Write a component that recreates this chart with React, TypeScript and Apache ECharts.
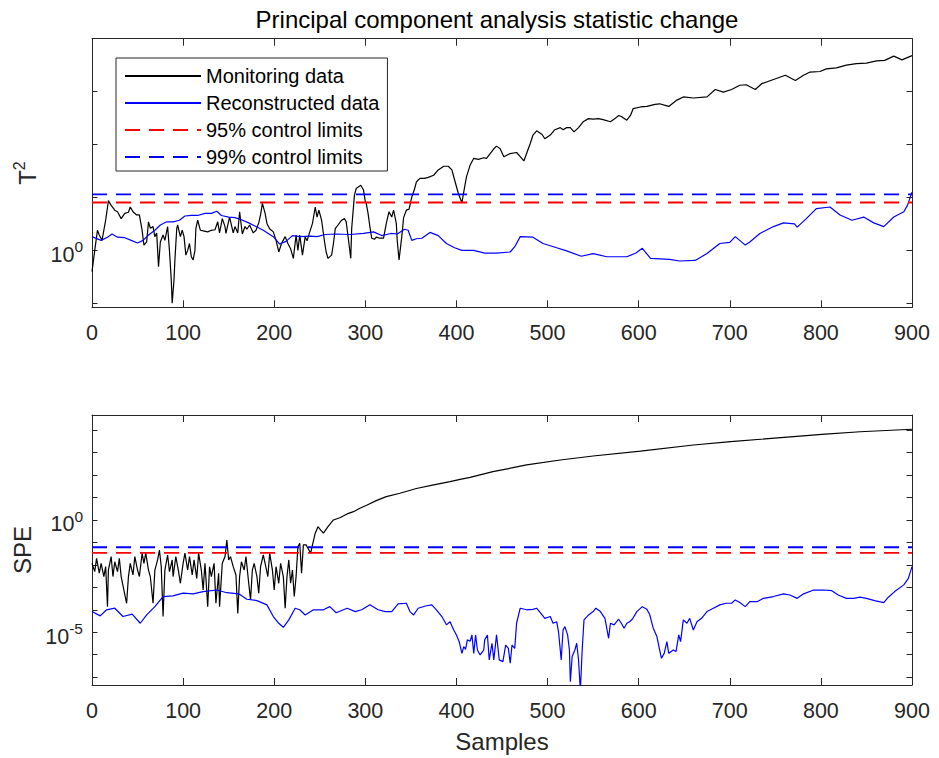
import React, { useEffect, useRef } from "react";
import * as echarts from "echarts";

// Values are stored as log10 exponents: [sample, log10(value)]
const t2MonitoringLog10: [number, number][] = [
  [0,-0.40],[3,0.0],[6,0.38],[8,0.29],[11,0.19],[15,0.57],[18,0.94],[21,0.85],[25,0.76],[28,0.73],[32,0.60],[36,0.70],[40,0.72],[42,0.82],[45,0.73],[49,0.67],[52,0.67],[55,0.38],[57,0.10],[60,0.16],[62,0.54],[64,0.42],[67,0.45],[69,0.26],[71,0.33],[73,-0.31],[75,0.16],[78,0.29],[80,0.19],[83,0.45],[85,0.0],[87,-0.56],[88,-1.0],[90,-0.56],[91,-0.18],[93,0.41],[94,0.48],[97,0.26],[99,0.38],[101,0.26],[103,-0.09],[105,0.0],[107,0.13],[109,-0.12],[111,-0.18],[113,0.0],[114,0.41],[116,0.57],[119,0.38],[122,0.37],[127,0.35],[131,0.38],[135,0.39],[138,0.54],[140,0.33],[143,0.60],[146,0.45],[147,0.32],[151,0.63],[155,0.33],[157,0.45],[160,0.33],[162,0.73],[165,0.31],[168,0.45],[170,0.40],[173,0.48],[177,0.33],[180,0.38],[183,0.52],[185,0.67],[187,0.89],[190,0.70],[192,0.51],[195,0.41],[199,0.35],[202,0.19],[205,-0.03],[208,0.13],[212,0.26],[215,0.13],[218,0.03],[221,-0.15],[224,0.29],[226,0.0],[228,0.29],[231,-0.09],[234,0.26],[236,0.18],[239,0.35],[242,0.51],[245,0.82],[247,0.63],[249,0.76],[252,0.57],[255,0.19],[257,-0.03],[259,-0.15],[263,-0.09],[265,0.13],[267,0.41],[270,0.48],[274,0.57],[277,0.60],[279,0.54],[282,0.13],[284,-0.15],[285,0.41],[288,1.04],[290,1.17],[295,1.23],[298,1.14],[300,0.92],[301,0.89],[303,0.70],[305,0.45],[307,0.23],[310,0.21],[312,0.25],[316,0.23],[320,0.23],[323,0.51],[326,0.73],[329,0.63],[331,0.76],[334,0.51],[335,0.19],[337,-0.18],[340,0.26],[342,0.62],[345,0.76],[348,0.78],[351,1.01],[354,1.16],[356,1.29],[358,1.33],[360,1.36],[365,1.36],[369,1.38],[375,1.42],[380,1.52],[386,1.59],[391,1.59],[395,1.52],[398,1.33],[402,1.08],[406,0.90],[409,1.20],[411,1.39],[415,1.61],[419,1.74],[424,1.72],[430,1.75],[433,1.74],[437,1.83],[441,1.92],[444,1.97],[448,1.92],[452,1.77],[459,1.83],[466,1.85],[470,1.77],[474,1.69],[477,1.83],[481,2.02],[484,2.18],[488,2.26],[494,2.19],[497,2.11],[503,2.18],[508,2.28],[514,2.32],[517,2.28],[521,2.32],[525,2.32],[529,2.24],[534,2.32],[539,2.43],[545,2.49],[550,2.48],[556,2.49],[561,2.47],[569,2.43],[574,2.49],[578,2.55],[581,2.53],[587,2.46],[591,2.55],[594,2.68],[602,2.71],[609,2.72],[618,2.76],[623,2.77],[633,2.72],[642,2.84],[649,2.90],[660,2.88],[675,2.90],[684,3.04],[693,2.99],[702,3.04],[711,3.12],[718,3.13],[728,3.04],[735,3.15],[748,3.23],[761,3.31],[772,3.21],[781,3.31],[788,3.37],[799,3.38],[806,3.43],[817,3.45],[828,3.50],[839,3.53],[850,3.54],[861,3.58],[870,3.59],[880,3.67],[889,3.60],[900,3.68]
];

const t2ReconstructedLog10: [number, number][] = [
  [0,0.26],[10,0.19],[17,0.25],[22,0.31],[28,0.25],[36,0.24],[43,0.19],[50,0.14],[56,0.19],[62,0.29],[69,0.38],[75,0.48],[82,0.54],[89,0.54],[96,0.57],[102,0.65],[109,0.66],[116,0.66],[124,0.70],[131,0.70],[137,0.74],[142,0.66],[150,0.63],[157,0.62],[164,0.58],[172,0.52],[180,0.45],[188,0.38],[199,0.26],[206,0.12],[213,0.17],[220,0.28],[228,0.26],[240,0.27],[247,0.26],[256,0.30],[268,0.31],[283,0.30],[298,0.32],[309,0.35],[318,0.28],[328,0.32],[335,0.31],[343,0.40],[347,0.38],[351,0.19],[356,0.22],[362,0.23],[371,0.34],[380,0.28],[389,0.13],[398,0.05],[406,0.0],[419,0.0],[431,-0.05],[444,-0.05],[459,-0.03],[464,0.07],[470,0.26],[484,0.25],[495,0.13],[510,0.05],[521,-0.01],[537,-0.11],[550,-0.06],[565,-0.12],[587,-0.12],[597,-0.05],[604,0.04],[613,-0.15],[634,-0.17],[645,-0.20],[662,-0.19],[675,-0.06],[689,0.13],[700,0.15],[706,0.26],[717,0.10],[722,0.16],[733,0.32],[748,0.45],[759,0.52],[771,0.50],[774,0.44],[784,0.60],[795,0.79],[810,0.82],[821,0.67],[834,0.57],[847,0.63],[858,0.52],[869,0.45],[880,0.63],[891,0.73],[895,0.85],[900,1.10]
];

const speMonitoringLog10: [number, number][] = [
  [0,-1.93],[3,-2.30],[5,-1.71],[8,-2.37],[10,-1.93],[13,-2.52],[15,-2.08],[17,-3.86],[18,-2.23],[21,-1.63],[23,-2.52],[25,-1.86],[28,-2.30],[30,-1.71],[32,-2.52],[35,-3.12],[38,-3.71],[40,-2.52],[42,-1.93],[45,-2.45],[47,-1.63],[50,-2.23],[52,-2.52],[55,-1.48],[57,-1.93],[59,-1.48],[62,-2.23],[64,-2.52],[67,-3.71],[69,-2.23],[72,-1.78],[74,-1.34],[76,-2.08],[78,-4.30],[80,-2.23],[83,-1.56],[85,-2.30],[88,-1.78],[89,-2.52],[92,-1.63],[95,-2.30],[97,-2.82],[100,-1.93],[102,-1.48],[105,-2.23],[107,-1.63],[110,-2.45],[112,-1.78],[115,-2.60],[117,-1.48],[120,-2.23],[122,-3.12],[124,-1.93],[127,-3.86],[129,-2.08],[131,-2.52],[134,-1.93],[136,-3.71],[139,-2.37],[140,-3.86],[143,-1.93],[146,-1.63],[148,-0.89],[150,-1.78],[152,-1.63],[155,-2.08],[158,-2.45],[160,-4.16],[162,-2.52],[164,-1.86],[167,-2.23],[169,-1.63],[172,-2.82],[174,-3.56],[176,-2.23],[178,-1.93],[181,-2.52],[183,-3.26],[185,-2.08],[188,-1.56],[190,-1.93],[193,-2.52],[195,-1.48],[198,-2.23],[200,-3.12],[202,-2.08],[205,-2.82],[207,-1.93],[210,-2.52],[212,-3.93],[214,-2.52],[216,-1.78],[218,-2.82],[220,-2.23],[222,-3.41],[224,-2.52],[226,-1.19],[228,-1.04],[230,-2.37],[232,-1.11],[235,-1.11],[237,-1.26],[240,-1.48],[242,-1.11],[245,-0.59],[248,-0.30],[251,-0.45],[254,-0.59],[259,-0.30],[265,0.0],[272,0.10],[280,0.27],[287,0.37],[294,0.52],[302,0.67],[312,0.86],[323,1.04],[338,1.19],[356,1.40],[375,1.56],[393,1.71],[404,1.81],[415,1.90],[440,2.15],[477,2.45],[514,2.67],[550,2.85],[602,3.07],[660,3.34],[701,3.49],[770,3.71],[801,3.81],[843,3.93],[900,4.04]
];

const speReconstructedLog10: [number, number][] = [
  [0,-4.08],[9,-4.27],[16,-4.0],[25,-3.93],[34,-4.30],[44,-4.19],[53,-4.60],[60,-4.23],[69,-3.86],[78,-3.41],[89,-3.38],[100,-3.26],[111,-3.29],[122,-3.19],[137,-3.12],[148,-3.24],[161,-3.29],[170,-3.53],[181,-3.59],[192,-3.78],[199,-4.30],[205,-4.60],[210,-4.78],[216,-4.45],[223,-3.93],[228,-4.0],[234,-4.23],[243,-4.0],[254,-4.0],[261,-3.86],[268,-4.13],[280,-3.93],[289,-4.08],[296,-4.0],[305,-3.78],[314,-4.0],[322,-4.08],[329,-4.08],[336,-3.74],[345,-3.71],[349,-4.08],[353,-4.23],[358,-3.93],[366,-3.83],[373,-3.78],[378,-4.0],[384,-4.30],[389,-4.67],[393,-4.53],[397,-4.90],[400,-5.12],[403,-5.42],[406,-5.94],[408,-5.64],[410,-5.76],[412,-5.34],[415,-5.40],[417,-5.12],[419,-5.94],[421,-5.12],[423,-5.79],[426,-6.01],[430,-5.79],[431,-5.34],[434,-5.12],[436,-6.23],[439,-5.49],[441,-6.23],[444,-5.12],[447,-6.23],[451,-6.31],[454,-5.57],[457,-5.72],[459,-6.38],[461,-5.57],[464,-5.72],[466,-4.60],[470,-3.93],[477,-4.0],[484,-3.98],[488,-3.93],[494,-4.23],[497,-4.38],[503,-4.30],[506,-4.60],[510,-4.53],[512,-4.97],[515,-6.23],[517,-4.90],[519,-4.75],[522,-5.12],[524,-5.79],[525,-7.20],[527,-6.08],[530,-5.79],[532,-5.49],[534,-6.23],[536,-7.60],[538,-5.79],[540,-4.45],[545,-4.23],[550,-4.08],[553,-3.93],[558,-4.08],[563,-4.38],[567,-5.27],[569,-4.60],[573,-4.67],[578,-4.42],[581,-4.60],[584,-4.82],[587,-4.60],[590,-4.53],[593,-4.42],[598,-4.08],[604,-3.86],[609,-3.98],[612,-4.20],[616,-4.82],[620,-5.19],[623,-5.79],[625,-6.16],[628,-5.94],[631,-5.42],[633,-5.94],[638,-5.79],[641,-5.86],[644,-5.12],[646,-5.42],[649,-4.45],[653,-4.60],[656,-4.38],[660,-4.90],[664,-4.53],[669,-4.38],[675,-4.08],[682,-3.93],[689,-3.78],[696,-3.71],[702,-3.71],[706,-3.56],[711,-3.68],[717,-3.86],[722,-3.64],[730,-3.64],[737,-3.49],[748,-3.41],[759,-3.29],[766,-3.34],[774,-3.49],[781,-3.29],[792,-3.12],[803,-3.12],[812,-3.15],[819,-3.34],[828,-3.49],[836,-3.49],[843,-3.44],[850,-3.49],[859,-3.59],[869,-3.68],[874,-3.44],[881,-3.19],[891,-2.89],[896,-2.60],[900,-2.08]
];

const t2Limit95 = 8.04;
const t2Limit99 = 11.4;
const speLimit95 = 0.034;
const speLimit99 = 0.061;

const sampleRange = [0, 900];
const t2AxisRange = [0.0841, 10000];
const speAxisRange = [4.47e-8, 47300];
const t2TickValues = [0.1, 1, 10, 100, 1000, 10000];
const t2LabelValues = [1];
const speTickValues = [1e-7, 1e-6, 1e-5, 1e-4, 1e-3, 1e-2, 0.1, 1, 10, 100, 1000, 10000];
const speLabelValues = [1e-5, 1];

const seriesNames = ["Monitoring data", "Reconstructed data", "95% control limits", "99% control limits"];

const FONT = '"Liberation Sans", Arial, Helvetica, sans-serif';
const AX = "#262626";

const toData = (arr: [number, number][]) => arr.map(([s, e]) => [s, Math.pow(10, e)]);
const flat = (v: number) => [[sampleRange[0], v], [sampleRange[1], v]];

function mkX(gridIndex: number, position: string, labels: boolean, name?: string) {
  return {
    type: "value",
    gridIndex,
    position,
    min: sampleRange[0],
    max: sampleRange[1],
    interval: 100,
    axisLine: { show: true, onZero: false, lineStyle: { color: AX, width: 1 } },
    axisTick: { show: true, inside: true, length: 7, lineStyle: { color: AX, width: 1 } },
    axisLabel: labels
      ? { show: true, margin: 15, color: AX, fontFamily: FONT, fontSize: 21.5 }
      : { show: false },
    splitLine: { show: false },
    name: name || "",
    nameLocation: "middle",
    nameGap: 44.5,
    nameTextStyle: { color: AX, fontFamily: FONT, fontSize: 24 },
  };
}

const yFmt = (v: number) => {
  const e = Math.round(Math.log10(v));
  return `{b|10}{s|${e}}`;
};

function mkY(
  gridIndex: number,
  position: string,
  range: number[],
  ticks: number[],
  labels: number[] | null,
  name?: string,
  nameGap?: number
) {
  return {
    type: "log",
    logBase: 10,
    gridIndex,
    position,
    min: range[0],
    max: range[1],
    axisLine: { show: true, onZero: false, lineStyle: { color: AX, width: 1 } },
    axisTick: { show: true, inside: true, length: 5.5, customValues: ticks, lineStyle: { color: AX, width: 1 } },
    axisLabel: labels
      ? {
          show: true,
          customValues: labels,
          formatter: yFmt,
          margin: 9,
          color: AX,
          fontFamily: FONT,
          fontSize: 21.5,
          rich: {
            b: { fontSize: 21.5, fontFamily: FONT, color: AX, padding: [9, 0, 0, 0] },
            s: { fontSize: 15.5, fontFamily: FONT, color: AX, padding: [0, 0, 7, 0] },
          },
        }
      : { show: false },
    splitLine: { show: false },
    minorTick: { show: false },
    name: name || "",
    nameLocation: "middle",
    nameRotate: 90,
    nameGap: nameGap || 0,
    nameTextStyle: {
      color: AX,
      fontFamily: FONT,
      fontSize: 24,
      rich: {
        t: { fontSize: 24, fontFamily: FONT, color: AX, padding: [8, 0, 0, 0] },
        s: { fontSize: 16, fontFamily: FONT, color: AX, padding: [0, 0, 8, 0] },
      },
    },
  };
}

function line(name: string, xi: number, yi: number, data: any[], color: string, width: number, dashed: boolean) {
  return {
    type: "line",
    name,
    xAxisIndex: xi,
    yAxisIndex: yi,
    data,
    showSymbol: false,
    symbol: "none",
    legendIcon: "none",
    clip: true,
    lineStyle: { color, width, type: dashed ? [15, 9] : "solid" },
    itemStyle: { color },
  };
}

export default function App() {
  const ref = useRef<HTMLDivElement>(null);
  useEffect(() => {
    if (!ref.current) return;
    const chart = echarts.init(ref.current, undefined, { renderer: "svg" });
    chart.setOption({
      animation: false,
      backgroundColor: "#ffffff",
      title: {
        text: "Principal component analysis statistic change",
        left: 492,
        top: 2,
        textAlign: "center",
        textStyle: { fontFamily: FONT, fontSize: 24, fontWeight: "normal", color: "#000" },
      },
      legend: {
        data: seriesNames,
        orient: "vertical",
        left: 116,
        top: 58,
        padding: [8, 8, 4, 8],
        itemGap: 7,
        itemWidth: 76,
        itemHeight: 20,
        borderColor: AX,
        borderWidth: 1,
        backgroundColor: "#ffffff",
        selectedMode: false,
        itemStyle: { color: "rgba(0,0,0,0)", borderWidth: 0, opacity: 0 },
        textStyle: { fontFamily: FONT, fontSize: 20, lineHeight: 20, color: "#000" },
      },
      grid: [
        { left: 92, top: 38.7, width: 820, height: 268.6 },
        { left: 92, top: 415, width: 820, height: 270 },
      ],
      xAxis: [mkX(0, "bottom", true), mkX(0, "top", false), mkX(1, "bottom", true, "Samples"), mkX(1, "top", false)],
      yAxis: [
        mkY(0, "left", t2AxisRange, t2TickValues, t2LabelValues, "{t|T}{s|2}", 48),
        mkY(0, "right", t2AxisRange, t2TickValues, null),
        mkY(1, "left", speAxisRange, speTickValues, speLabelValues, "SPE", 57),
        mkY(1, "right", speAxisRange, speTickValues, null),
      ],
      series: [
        line(seriesNames[0], 0, 0, toData(t2MonitoringLog10), "#000000", 1.2, false),
        line(seriesNames[1], 0, 0, toData(t2ReconstructedLog10), "#0000ff", 1.2, false),
        line(seriesNames[2], 0, 0, flat(t2Limit95), "#ff0000", 1.8, true),
        line(seriesNames[3], 0, 0, flat(t2Limit99), "#0000ff", 1.8, true),
        line(seriesNames[0], 2, 2, toData(speMonitoringLog10), "#000000", 1.2, false),
        line(seriesNames[1], 2, 2, toData(speReconstructedLog10), "#0000ff", 1.2, false),
        line(seriesNames[2], 2, 2, flat(speLimit95), "#ff0000", 1.8, true),
        line(seriesNames[3], 2, 2, flat(speLimit99), "#0000ff", 1.8, true),
      ],
    });
    return () => chart.dispose();
  }, []);
  return (
    <div
      ref={ref}
      style={{ position: "fixed", left: 0, top: 0, width: 939, height: 758, background: "#fff" }}
    />
  );
}
